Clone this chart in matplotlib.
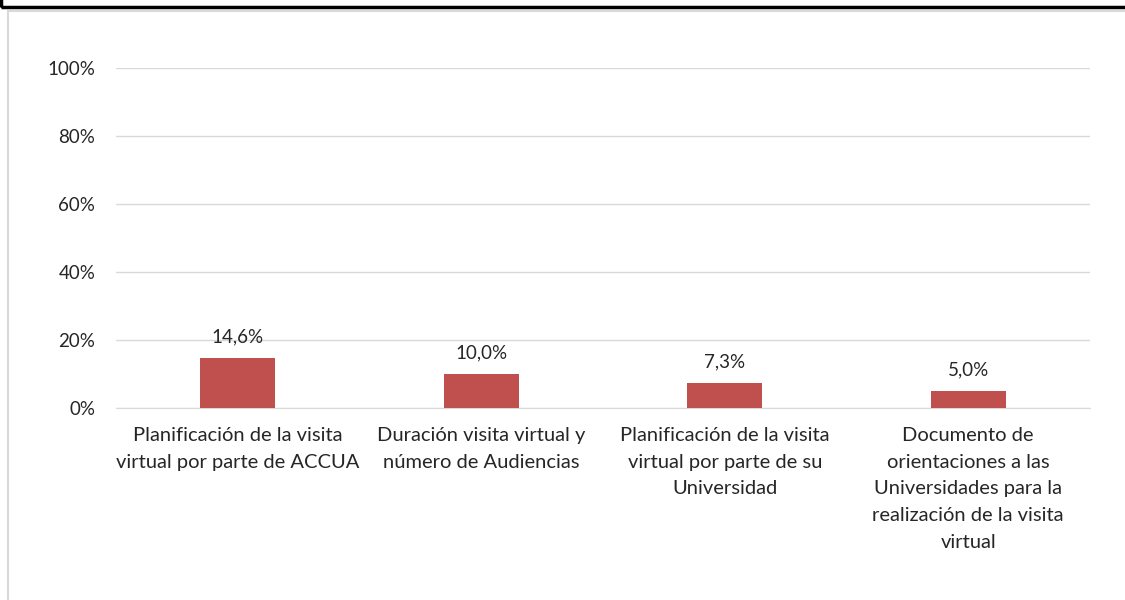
import matplotlib.pyplot as plt
from matplotlib.patches import Rectangle
from matplotlib.ticker import FuncFormatter

plt.rcParams['font.family'] = ['Lato', 'DejaVu Sans']

categorias = [
    "Planificación de la visita\nvirtual por parte de ACCUA",
    "Duración visita virtual y\nnúmero de Audiencias",
    "Planificación de la visita\nvirtual por parte de su\nUniversidad",
    "Documento de\norientaciones a las\nUniversidades para la\nrealización de la visita\nvirtual",
]
porcentajes = [14.6, 10.0, 7.3, 5.0]
ticks_y = [0, 20, 40, 60, 80, 100]

fig = plt.figure(figsize=(11.25, 6), dpi=100)

# marco negro superior (recortado) y borde gris del gráfico
fig.add_artist(Rectangle((0.001, 0.989), 1.2, 0.2, transform=fig.transFigure,
                         fill=False, edgecolor='black', linewidth=2.5))
fig.add_artist(Rectangle((0.0075, -0.1), 1.2, 1.082, transform=fig.transFigure,
                         fill=False, edgecolor='#d9d9d9', linewidth=1.5))

ax = fig.add_axes([116 / 1125, 1 - 408 / 600, (1090 - 116) / 1125, 340 / 600])
x = range(len(categorias))
barras = ax.bar(x, porcentajes, width=0.31, color='#C0504D', zorder=3)

for xi, v in zip(x, porcentajes):
    ax.annotate(f"{v:.1f}%".replace('.', ','), (xi, v), xytext=(0, 9),
                textcoords='offset points', ha='center', va='bottom',
                fontsize=13.5, color='#262626')

ax.set_xlim(-0.5, len(categorias) - 0.5)
ax.set_ylim(0, 100)
ax.set_yticks(ticks_y)
ax.yaxis.set_major_formatter(FuncFormatter(lambda v, p: f"{v:.0f}%"))
ax.set_xticks(list(x))
ax.set_xticklabels(categorias, fontsize=14.5, color='#262626', linespacing=1.68)
ax.tick_params(axis='y', labelsize=13.5, labelcolor='#262626', length=0, pad=15)
ax.tick_params(axis='x', length=0, pad=14)
ax.grid(axis='y', color='#d9d9d9', linewidth=1, zorder=0)
for s in ['top', 'right', 'left']:
    ax.spines[s].set_visible(False)
ax.spines['bottom'].set_color('#d9d9d9')

fig.savefig("out.png", dpi=100)
